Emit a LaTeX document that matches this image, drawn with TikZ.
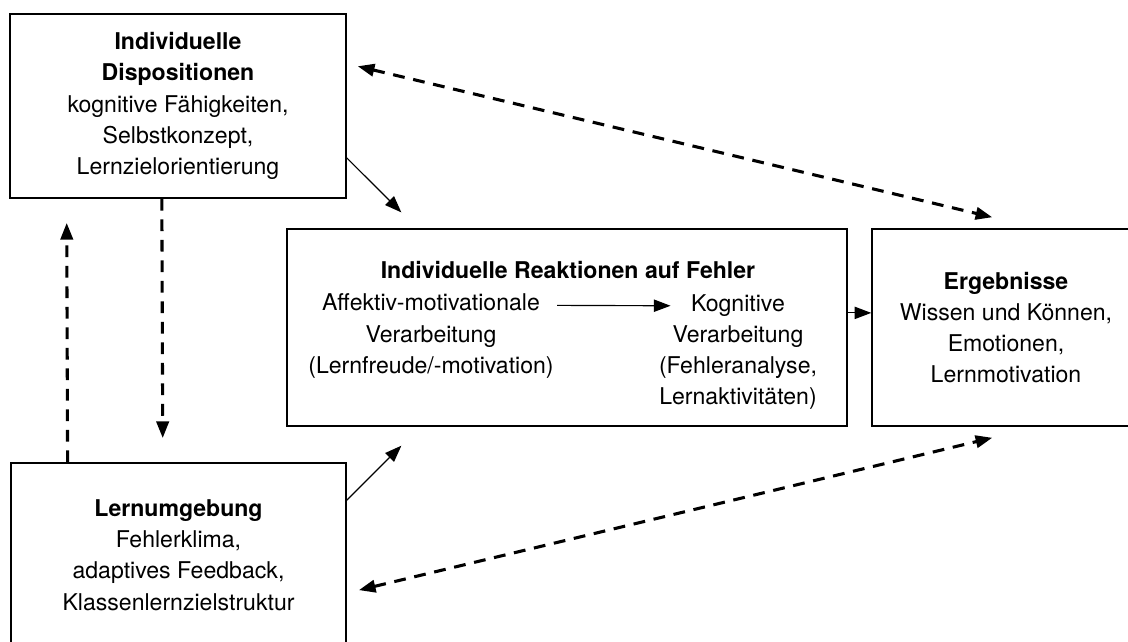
\documentclass[tikz,border=0pt]{standalone}
\usepackage{fontspec}
\setmainfont{TeX Gyre Heros}
\usetikzlibrary{arrows.meta}

\begin{document}
\begin{tikzpicture}[x=0.39pt,y=-0.39pt,>={Triangle[length=6.5pt,width=4.8pt]},
        font=\fontsize{9}{12.2}\selectfont,
        box/.style={draw,line width=0.6pt,inner sep=0pt,align=center,minimum height=76.8pt},
        pfeil/.style={->,line width=0.45pt},
        wechsel/.style={<->,line width=1.2pt,dash pattern=on 4.6pt off 3.4pt}]
    \useasboundingbox (0,0) rectangle (1128,641);

    \node[box,minimum width=131pt,minimum height=71.8pt] (disp) at (178,106)
        {\textbf{Individuelle}\\\textbf{Dispositionen}\\kognitive Fähigkeiten,\\Selbstkonzept,\\Lernzielorientierung};
    \node[box,minimum width=130.7pt,minimum height=71.8pt] (lern) at (178.5,555)
        {\textbf{Lernumgebung}\\Fehlerklima,\\adaptives Feedback,\\Klassenlernzielstruktur};
    \node[box,minimum width=218.4pt] (reak) at (567,327.5) {};
    \node[box,minimum width=104.5pt] (erg) at (1006,327.5)
        {\textbf{Ergebnisse}\\Wissen und Können,\\Emotionen,\\Lernmotivation};

    % innerhalb der Reaktionen
    \node[font=\fontsize{9}{12.2}\selectfont\bfseries] (titel) at (568,270) {Individuelle Reaktionen auf Fehler};
    \node[align=center,inner sep=0pt] (affekt) at (431,336) {Affektiv-motivationale\\Verarbeitung\\(Lernfreude/-motivation)};
    \node[align=center,inner sep=0pt] (kogn) at (738,352) {Kognitive\\Verarbeitung\\(Fehleranalyse,\\Lernaktivitäten)};
    \draw[pfeil] ([xshift=1.2pt,yshift=-4.7pt]affekt.north east) -- ([xshift=4.7pt,yshift=-4.7pt]kogn.north west);

    \draw[pfeil] ([yshift=5.7pt]reak.east) -- ([yshift=5.7pt]erg.west);
    \draw[pfeil] ([yshift=16pt]disp.south east) -- ([xshift=44.9pt,yshift=6.2pt]reak.north west);
    \draw[pfeil] ([yshift=-14.8pt]lern.north east) -- ([xshift=44.9pt,yshift=-7.4pt]reak.south west);

    \draw[wechsel] ([xshift=4.3pt,yshift=-20.7pt]disp.north east) -- ([xshift=47.2pt,yshift=4.3pt]erg.north west);
    \draw[wechsel] ([xshift=4.7pt,yshift=-49.9pt]lern.north east) -- ([xshift=47.2pt,yshift=-4.3pt]erg.south west);
    \draw[wechsel,-{Triangle[length=6.5pt,width=4.8pt]}] ([xshift=22.4pt]lern.north west) -- ([xshift=22.4pt,yshift=-9.4pt]disp.south west);
    \draw[wechsel,-{Triangle[length=6.5pt,width=4.8pt]}] ([xshift=59.5pt]disp.south west) -- ([xshift=59.5pt,yshift=9.4pt]lern.north west);
\end{tikzpicture}
\end{document}
